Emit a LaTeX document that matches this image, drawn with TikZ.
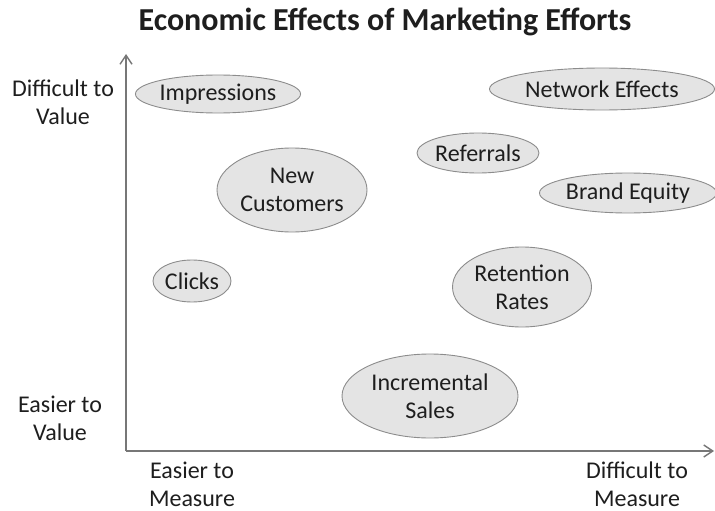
\documentclass[tikz,border=0pt]{standalone}
\usepackage{fontspec}
\setmainfont{Carlito}
\usetikzlibrary{shapes.geometric,arrows.meta}
\definecolor{bubfill}{HTML}{E4E4E4}
\definecolor{bubdraw}{HTML}{8C8C8C}
\definecolor{axiscol}{HTML}{777777}
\definecolor{txt}{HTML}{1E1E1E}
\tikzset{
  bubble/.style={ellipse, draw=bubdraw, fill=bubfill, line width=0.9pt, inner sep=0pt,
    text=txt, font=\fontsize{24}{28}\selectfont, align=center},
  lbl/.style={text=txt, font=\fontsize{24}{28}\selectfont, align=center, inner sep=0pt},
  axisline/.style={draw=axiscol, line width=2pt, -{Straight Barb[length=9pt,width=12pt,line width=1.4pt]}},
}
\begin{document}
\begin{tikzpicture}[x=1pt,y=-1pt]
\useasboundingbox (0,0) rectangle (715,511);
\node[text=txt, font=\fontsize{32}{36}\selectfont\bfseries, inner sep=0pt] (title) at (385,22) {Economic Effects of Marketing Efforts};
\coordinate (o) at (126,451);
\coordinate (ytop) at (126,54);
\coordinate (xend) at (714,451);
\draw[axisline] (o) -- (ytop);
\draw[axisline] (o) -- (xend);
\node[lbl] (dv) at (63,102) {Difficult to\\Value};
\node[lbl] (ev) at (60,418) {Easier to\\Value};
\node[lbl] (em) at (192,484) {Easier to\\Measure};
\node[lbl] (dm) at (637,484) {Difficult to\\Measure};
\node[bubble, minimum width=165pt, minimum height=38pt] (imp) at (218,94) {Impressions};
\node[bubble, minimum width=225pt, minimum height=42pt] (net) at (602,89) {Network Effects};
\node[bubble, minimum width=122pt, minimum height=40pt] (ref) at (478,153) {Referrals};
\node[bubble, minimum width=150pt, minimum height=84pt] (newc) at (292,190) {New\\Customers};
\node[bubble, minimum width=177pt, minimum height=40pt] (brand) at (628,193) {Brand Equity};
\node[bubble, minimum width=78pt, minimum height=42pt] (clicks) at (192,281) {Clicks};
\node[bubble, minimum width=139pt, minimum height=80pt] (ret) at (522,287) {Retention\\Rates};
\node[bubble, minimum width=176pt, minimum height=84pt] (inc) at (430,396) {Incremental\\Sales};
\end{tikzpicture}
\end{document}
